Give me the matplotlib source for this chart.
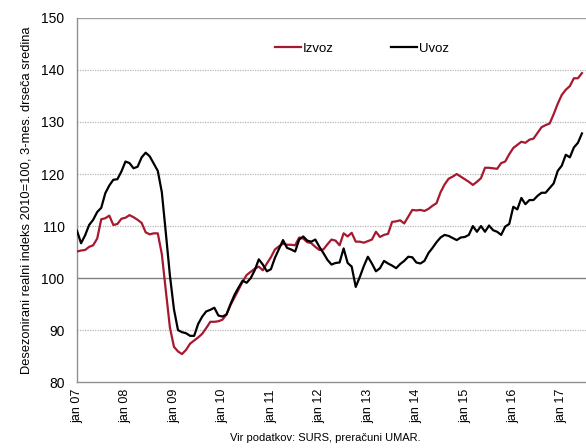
import numpy as np
import matplotlib.pyplot as plt

# monthly data, jan 2007 - jun 2017
izvoz = [105.1, 105.3, 105.4, 106.0, 106.3, 107.6, 111.3, 111.5, 112.0, 110.2, 110.4, 111.4,
         111.6, 112.1, 111.7, 111.2, 110.6, 108.8, 108.4, 108.6, 108.6, 104.6, 97.5, 90.5,
         86.8, 85.9, 85.4, 86.2, 87.4, 88.0, 88.6, 89.3, 90.4, 91.6, 91.6, 91.7,
         92.0, 93.0, 94.8, 96.3, 97.8, 99.3, 100.6, 101.2, 101.8, 102.2, 101.5, 102.8,
         104.0, 105.5, 106.1, 106.6, 106.4, 106.4, 106.3, 107.8, 107.6, 106.9, 106.7, 106.0,
         105.4, 105.5, 106.5, 107.4, 107.2, 106.3, 108.6, 108.0, 108.7, 107.0, 107.0, 106.8,
         107.1, 107.4, 108.9, 107.9, 108.3, 108.5, 110.8, 110.9, 111.1, 110.5, 111.8, 113.1,
         113.0, 113.1, 112.9, 113.3, 113.9, 114.4, 116.5, 118.0, 119.1, 119.5, 120.0, 119.5,
         119.0, 118.5, 117.9, 118.5, 119.2, 121.2, 121.2, 121.1, 121.0, 122.1, 122.4, 123.8,
         125.0, 125.6, 126.2, 126.0, 126.6, 126.8, 127.9, 129.0, 129.4, 129.7, 131.5, 133.5,
         135.2, 136.2, 136.9, 138.4, 138.4, 139.4]

uvoz = [109.1, 106.7, 108.2, 110.2, 111.2, 112.7, 113.5, 116.3, 117.8, 118.9, 119.0, 120.5,
        122.4, 122.1, 121.1, 121.4, 123.2, 124.1, 123.4, 122.0, 120.6, 116.5, 108.6, 100.5,
        94.0, 90.0, 89.6, 89.4, 88.9, 88.9, 91.2, 92.6, 93.6, 93.9, 94.3, 92.8,
        92.6, 93.0, 95.0, 96.8, 98.2, 99.5, 99.1, 100.0, 101.5, 103.6, 102.6, 101.3,
        101.7, 103.9, 105.6, 107.3, 105.8, 105.5, 105.1, 107.4, 108.0, 107.2, 107.0, 107.4,
        106.0, 104.8, 103.5, 102.6, 102.9, 103.0, 105.7, 102.9, 102.2, 98.3, 100.2, 102.3,
        104.1, 102.8, 101.3, 101.9, 103.3, 102.8, 102.4, 101.9, 102.7, 103.3, 104.1, 104.0,
        103.0, 102.8, 103.3, 104.8, 105.8, 106.9, 107.8, 108.3, 108.1, 107.7, 107.3, 107.8,
        107.9, 108.3, 110.0, 108.9, 110.0, 108.9, 110.1, 109.2, 108.9, 108.3, 109.9, 110.4,
        113.7, 113.2, 115.4, 114.2, 115.0, 115.0, 115.8, 116.4, 116.4, 117.3, 118.2, 120.6,
        121.6, 123.7, 123.2, 125.1, 126.0, 127.8]

tick_labels = ['jan 07', 'jan 08', 'jan 09', 'jan 10', 'jan 11', 'jan 12',
               'jan 13', 'jan 14', 'jan 15', 'jan 16', 'jan 17']

plt.rcParams['font.family'] = ['Liberation Sans', 'DejaVu Sans']

fig = plt.figure(figsize=(5.86, 4.48), dpi=100)
ax = fig.add_axes([0.1314, 0.147, 0.8686, 0.813])

x = np.arange(len(izvoz))
ax.plot(x, izvoz, color='#A6192E', lw=1.6, label='Izvoz', zorder=3)
ax.plot(x, uvoz, color='black', lw=1.6, label='Uvoz', zorder=3)

ax.set_ylim(80, 150)
ax.set_xlim(0, 126)
ax.set_yticks(range(80, 151, 10))
ax.set_xticks(range(0, len(izvoz), 12))
ax.set_xticklabels(tick_labels, rotation=90)
ax.tick_params(length=0, labelsize=9, colors='black')
ax.tick_params(axis='y', labelsize=10, pad=9)
ax.tick_params(axis='x', pad=5)

for v in [90, 110, 120, 130, 140]:
    ax.axhline(v, color='#b8b8b8', lw=0.9, ls=(0, (1, 1)), zorder=1)
ax.axhline(100, color='#808080', lw=1.0, zorder=1)
ax.axhline(150, color='#a0a0a0', lw=1.0, zorder=1)

for s in ['top', 'right']:
    ax.spines[s].set_visible(False)
for s in ['left', 'bottom']:
    ax.spines[s].set_color('#909090')
    ax.spines[s].set_linewidth(1.0)

ax.set_ylabel('Desezonirani realni indeks 2010=100, 3-mes. drseča sredina', fontsize=9.3, labelpad=6)

ax.legend(loc='upper left', bbox_to_anchor=(0.365, 0.965), ncol=2, frameon=False,
          fontsize=9.5, handlelength=2.0, handletextpad=0.15, columnspacing=4.3)

fig.text(0.555, 0.012, 'Vir podatkov: SURS, preračuni UMAR.', ha='center', va='bottom', fontsize=8)

fig.savefig('out.png', dpi=100)
